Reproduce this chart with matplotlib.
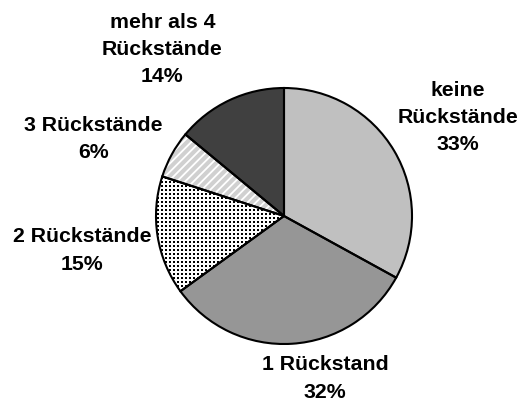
import numpy as np
import matplotlib.pyplot as plt

plt.rcParams['font.family'] = ['Liberation Sans', 'DejaVu Sans']
plt.rcParams['hatch.linewidth'] = 1.3

labels = ["keine\nRückstände", "1 Rückstand", "2 Rückstände", "3 Rückstände", "mehr als 4\nRückstände"]
shares = [33, 32, 15, 6, 14]
colors = ["#c0c0c0", "#969696", "white", "#d0d0d0", "#404040"]
hatches = [None, None, None, "////", None]
hatch_colors = ["#c0c0c0", "#969696", "white", "white", "#404040"]

# label centres, in pie radius units
label_pos = [(1.36, 0.77), (0.32, -1.27), (-1.58, -0.27), (-1.49, 0.60), (-0.95, 1.30)]

fig = plt.figure(figsize=(5.21, 4.01), dpi=100)
ax = fig.add_axes([0, 0, 1, 1])

wedges, _ = ax.pie(shares, colors=colors, startangle=90, counterclock=False,
                   wedgeprops=dict(linewidth=0))
for w, h, hc in zip(wedges, hatches, hatch_colors):
    if h:
        w.set_hatch(h)
    w.set_edgecolor(hc)

# dotted fill for "2 Rückstände": square grid of small dots clipped to the wedge
step = 4 / 128
gx, gy = np.meshgrid(np.arange(-1.05, 0.05, step), np.arange(-1.05, 1.05, step))
dots = ax.scatter(gx.ravel(), gy.ravel(), s=3.2, marker="s", c="black", linewidths=0, zorder=2)
dots.set_clip_path(wedges[2])

# black outlines on top of the fills
ax.pie(shares, colors=["none"] * len(shares), startangle=90, counterclock=False,
       wedgeprops=dict(linewidth=1.5, edgecolor="black", fill=False, zorder=3))

for lab, v, (x, y) in zip(labels, shares, label_pos):
    ax.text(x, y, f"{lab}\n{v}%", ha="center", va="center", fontsize=15.3,
            fontweight="bold", linespacing=1.55)

ax.set_xlim(-284 / 128, (521 - 284) / 128)
ax.set_ylim(-(401 - 216) / 128, 216 / 128)
ax.set_aspect("auto")
ax.axis("off")

fig.savefig("out.png", dpi=100)
